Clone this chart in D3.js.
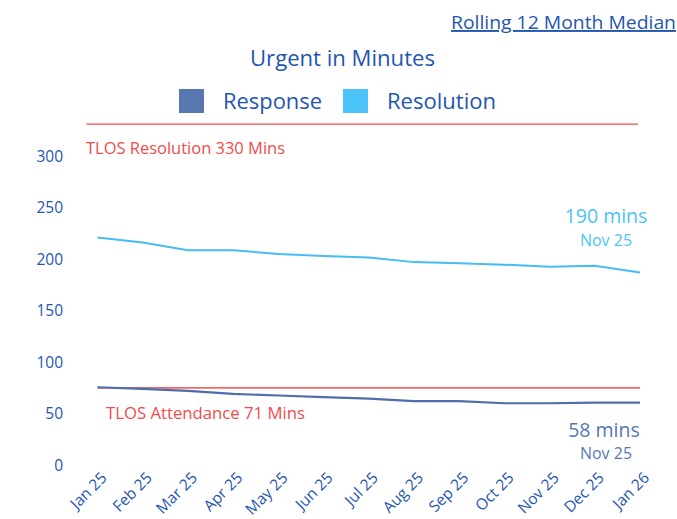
<!DOCTYPE html>
<html>
<head>
<meta charset="utf-8">
<script src="https://cdn.jsdelivr.net/npm/d3@7"></script>
<style>
  html, body { margin: 0; padding: 0; background: #fff; }
  svg { display: block; font-family: "Open Sans", "Noto Sans", sans-serif; }
</style>
</head>
<body>
<svg id="chart" width="677" height="519"></svg>
<script>
const categories = ["Jan 25","Feb 25","Mar 25","Apr 25","May 25","Jun 25","Jul 25","Aug 25","Sep 25","Oct 25","Nov 25","Dec 25","Jan 26"];
const responseValues = [74.5, 73, 71, 68, 66.5, 65, 63.5, 61, 61, 59, 59, 59.5, 59.5];
const resolutionValues = [220, 215, 207.5, 207.5, 204, 202, 200.5, 196, 195, 193.5, 191.5, 192.5, 186];
const yTicks = [0, 50, 100, 150, 200, 250, 300];
const tlosResolution = 330;
const tlosAttendanceLine = 74;
const seriesNames = ["Response", "Resolution"];
const titleText = "Urgent in Minutes";
const linkText = "Rolling 12 Month Median";
const tlosResolutionLabel = "TLOS Resolution 330 Mins";
const tlosAttendanceLabel = "TLOS Attendance 71 Mins";
const resolutionCallout = ["190 mins", "Nov 25"];
const responseCallout = ["58 mins", "Nov 25"];

const colors = { response: "#5677B0", resolution: "#4CC4FA", text: "#1F56B0", red: "#F24B4B" };

const svg = d3.select("#chart");
const x = d3.scalePoint().domain(categories).range([97.5, 640]);
const y = d3.scaleLinear().domain([0, 300]).range([464, 155]);

// Header link
svg.append("text").attr("x", 676).attr("y", 29).attr("text-anchor", "end")
  .attr("font-size", 19).attr("fill", colors.text).attr("text-decoration", "underline")
  .attr("textLength", 225).attr("lengthAdjust", "spacingAndGlyphs")
  .text(linkText);

// Title
svg.append("text").attr("x", 342.5).attr("y", 66).attr("text-anchor", "middle")
  .attr("font-size", 21.5).attr("fill", colors.text)
  .attr("textLength", 185).attr("lengthAdjust", "spacingAndGlyphs").text(titleText);

// Legend
const legend = [
  { name: seriesNames[0], color: colors.response, x: 179, w: 99 },
  { name: seriesNames[1], color: colors.resolution, x: 343, w: 109 }
];
legend.forEach(l => {
  svg.append("rect").attr("x", l.x).attr("y", 89).attr("width", 25).attr("height", 24).attr("fill", l.color);
  svg.append("text").attr("x", l.x + 44).attr("y", 108.5).attr("font-size", 21.5)
    .attr("fill", colors.text).attr("textLength", l.w).attr("lengthAdjust", "spacingAndGlyphs").text(l.name);
});

// Y axis
const yAxis = d3.axisLeft(y).tickValues(yTicks).tickSize(0).tickPadding(0).tickFormat(d3.format("d"));
const yg = svg.append("g").attr("transform", "translate(63,1.5)").call(yAxis);
yg.select(".domain").remove();
yg.selectAll("text").attr("font-size", 15.5).attr("fill", colors.text)
  .attr("font-family", "'Open Sans', sans-serif");

// X axis
const xAxis = d3.axisBottom(x).tickSize(0).tickPadding(0);
const xg = svg.append("g").attr("transform", "translate(0,473)").call(xAxis);
xg.select(".domain").remove();
xg.selectAll("text").attr("font-size", 15.5).attr("fill", colors.text)
  .attr("font-family", "'Open Sans', sans-serif")
  .attr("text-anchor", "end").attr("dy", "0.35em")
  .attr("transform", "translate(6,2) rotate(-45)");

// TLOS resolution line
svg.append("line").attr("x1", x(categories[0]) - 11).attr("x2", x(categories[categories.length - 1]) - 2)
  .attr("y1", y(tlosResolution)).attr("y2", y(tlosResolution))
  .attr("stroke", colors.red).attr("stroke-width", 1.2);
svg.append("text").attr("x", 86).attr("y", y(tlosResolution) + 30).attr("font-size", 16.5)
  .attr("fill", colors.red).attr("textLength", 199).attr("lengthAdjust", "spacingAndGlyphs")
  .text(tlosResolutionLabel);

// TLOS attendance line
svg.append("path")
  .datum(categories.map(c => ({ c, v: tlosAttendanceLine })))
  .attr("fill", "none").attr("stroke", colors.red).attr("stroke-opacity", 0.85).attr("stroke-width", 1.8)
  .attr("d", d3.line().x(d => x(d.c)).y(d => y(d.v)));
svg.append("text").attr("x", 106).attr("y", 419).attr("font-size", 16.5)
  .attr("fill", colors.red).attr("textLength", 199).attr("lengthAdjust", "spacingAndGlyphs")
  .text(tlosAttendanceLabel);

// Series lines
const line = d3.line().x((d, i) => x(categories[i])).y(d => y(d));
svg.append("path").datum(resolutionValues).attr("fill", "none")
  .attr("stroke", "#45BDF2").attr("stroke-width", 2).attr("d", line);
svg.append("path").datum(responseValues).attr("fill", "none")
  .attr("stroke", "#4E6EAB").attr("stroke-width", 2.2).attr("d", line);

// Callouts
svg.append("text").attr("x", 606).attr("y", 223).attr("text-anchor", "middle")
  .attr("font-size", 19.5).attr("fill", "#4CC4FA").text(resolutionCallout[0]);
svg.append("text").attr("x", 606).attr("y", 246).attr("text-anchor", "middle")
  .attr("font-size", 16).attr("fill", "#4CC4FA").text(resolutionCallout[1]);
svg.append("text").attr("x", 604).attr("y", 437).attr("text-anchor", "middle")
  .attr("font-size", 19.5).attr("fill", colors.response).text(responseCallout[0]);
svg.append("text").attr("x", 606).attr("y", 459).attr("text-anchor", "middle")
  .attr("font-size", 16).attr("fill", colors.response).text(responseCallout[1]);
</script>
</body>
</html>
